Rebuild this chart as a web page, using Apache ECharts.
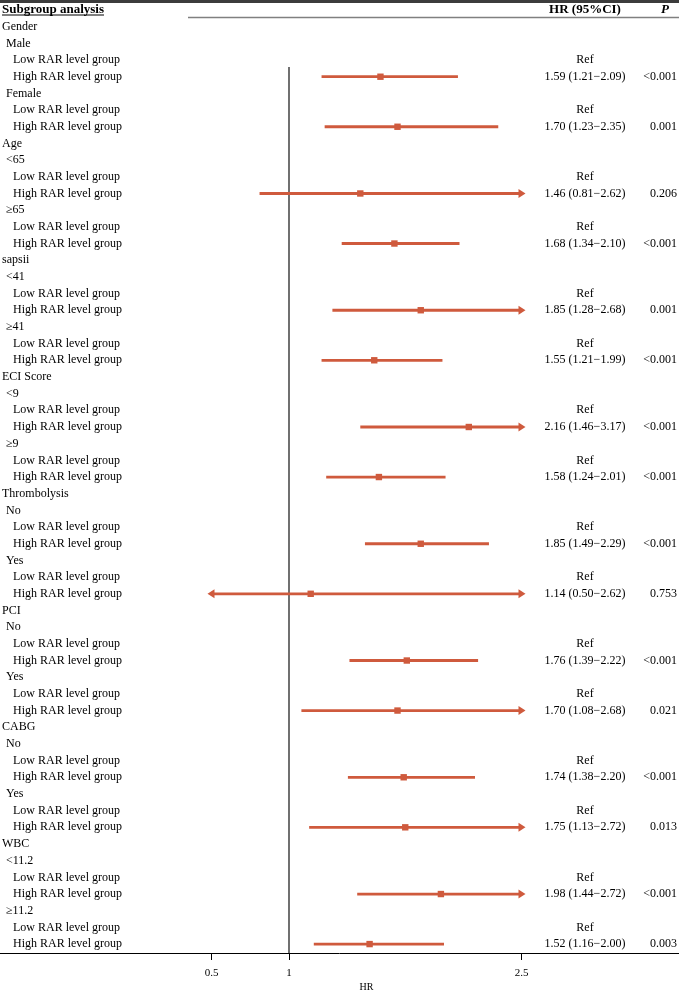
<!DOCTYPE html>
<html><head><meta charset="utf-8">
<script src="https://cdn.jsdelivr.net/npm/echarts@6/dist/echarts.min.js"></script>
<style>html,body{margin:0;padding:0;background:#fff}#c{width:679px;height:992px}</style>
</head><body><div id="c"></div>
<script>
// ---------------- data ----------------
const variables = ['Gender', 'Age', 'sapsii', 'ECI Score', 'Thrombolysis', 'PCI', 'CABG', 'WBC'];
const subgroups = [['Male', 'Female'], ['<65', '≥65'], ['<41', '≥41'], ['<9', '≥9'], ['No', 'Yes'], ['No', 'Yes'], ['No', 'Yes'], ['<11.2', '≥11.2']];
const groupLevels = ['Low RAR level group', 'High RAR level group'];
const hrEst  = [1.59, 1.70, 1.46, 1.68, 1.85, 1.55, 2.16, 1.58, 1.85, 1.14, 1.76, 1.70, 1.74, 1.75, 1.98, 1.52];
const ciLow  = [1.21, 1.23, 0.81, 1.34, 1.28, 1.21, 1.46, 1.24, 1.49, 0.50, 1.39, 1.08, 1.38, 1.13, 1.44, 1.16];
const ciHigh = [2.09, 2.35, 2.62, 2.10, 2.68, 1.99, 3.17, 2.01, 2.29, 2.62, 2.22, 2.68, 2.20, 2.72, 2.72, 2.00];
const pValues = ['<0.001', '0.001', '0.206', '<0.001', '0.001', '<0.001', '<0.001', '<0.001', '<0.001', '0.753', '<0.001', '0.021', '<0.001', '0.013', '<0.001', '0.003'];
const refLabel = 'Ref';
const tickValues = [0.5, 1, 2.5];
const headerLabels = ['Subgroup analysis', 'HR (95%CI)', 'P'];
const axisName = 'HR';

// ---------------- layout / style ----------------
const FONT = '"Liberation Serif"';
const COLOR = '#CF5A3D';
const W = 679, H = 992;
const PX_ONE = 289, PX_PER = 155;
const XMIN = 1 - PX_ONE / PX_PER, XMAX = 1 + (W - PX_ONE) / PX_PER;
const ROW0 = 10, ROWH = 16.68, AXIS_Y = 953;
const YMIN = (0 - ROW0) / ROWH, YMAX = (AXIS_Y - ROW0) / ROWH;
const CLIP_LO = 0.5, CLIP_HI = 2.5;
const REF_START = 3.42;
const INDENT = [2, 6, 13];
const HR_COL_X = 585, P_COL_X = 677, P_HEAD_X = 665;

const fmt = v => v.toFixed(2);

// build rows
const rows = [];
rows.push({ label: headerLabels[0], level: 0, hr: headerLabels[1], p: headerLabels[2], header: true });
const forestData = [];
let k = 0;
variables.forEach((v, i) => {
  rows.push({ label: v, level: 0 });
  subgroups[i].forEach(s => {
    rows.push({ label: s, level: 1 });
    rows.push({ label: groupLevels[0], level: 2, hr: refLabel });
    const r = rows.length;
    rows.push({ label: groupLevels[1], level: 2, hr: fmt(hrEst[k]) + ' (' + fmt(ciLow[k]) + '\u2212' + fmt(ciHigh[k]) + ')', p: pValues[k] });
    forestData.push([r, ciLow[k], hrEst[k], ciHigh[k]]);
    k++;
  });
});

function measure(text, font) {
  const c = document.createElement('canvas').getContext('2d');
  c.font = font;
  return c.measureText(text).width;
}

const chart = echarts.init(document.getElementById('c'), null, { renderer: 'canvas' });
chart.setOption({
  animation: false,
  backgroundColor: '#fff',
  grid: { left: 0, right: 0, top: 0, bottom: H - AXIS_Y, containLabel: false },
  xAxis: {
    type: 'value', min: XMIN, max: XMAX, position: 'bottom',
    axisLine: { show: true, onZero: false, lineStyle: { color: '#000', width: 1 } },
    axisTick: { show: true, customValues: tickValues, length: 7, lineStyle: { color: '#000', width: 1 } },
    axisLabel: { show: true, customValues: tickValues, margin: 15, fontFamily: 'Liberation Serif', fontSize: 11, color: '#000' },
    splitLine: { show: false }
  },
  yAxis: { type: 'value', inverse: true, min: YMIN, max: YMAX, show: false },
  series: [
    {
      type: 'custom', name: 'refline', clip: false, silent: true,
      data: [[1, REF_START]],
      renderItem: (params, api) => {
        const a = api.coord([api.value(0), api.value(1)]);
        const b = api.coord([api.value(0), YMAX]);
        return { type: 'line', shape: { x1: a[0], y1: a[1], x2: b[0], y2: b[1] }, style: { stroke: '#111', lineWidth: 1.2 } };
      }
    },
    {
      type: 'custom', name: 'forest', clip: false, silent: true,
      data: forestData,
      renderItem: (params, api) => {
        const r = api.value(0), lo = api.value(1), est = api.value(2), hi = api.value(3);
        const y = api.coord([1, r])[1];
        const xl = api.coord([Math.max(lo, CLIP_LO), r])[0];
        const xh = api.coord([Math.min(hi, CLIP_HI), r])[0];
        const xe = api.coord([est, r])[0];
        const ch = [
          { type: 'line', shape: { x1: xl, y1: y, x2: xh, y2: y }, style: { stroke: COLOR, lineWidth: 2.8 } }
        ];
        if (hi > CLIP_HI) ch.push({ type: 'polygon', shape: { points: [[xh - 3, y - 4.5], [xh + 4, y], [xh - 3, y + 4.5]] }, style: { fill: COLOR } });
        if (lo <= CLIP_LO) ch.push({ type: 'polygon', shape: { points: [[xl + 3, y - 4.5], [xl - 4, y], [xl + 3, y + 4.5]] }, style: { fill: COLOR } });
        ch.push({ type: 'rect', shape: { x: xe - 3.2, y: y - 3.2, width: 6.4, height: 6.4 }, style: { fill: COLOR } });
        return { type: 'group', children: ch };
      }
    },
    {
      type: 'custom', name: 'texts', clip: false, silent: true,
      data: rows.map((r, i) => [i]),
      renderItem: (params, api) => {
        const i = api.value(0);
        const row = rows[i];
        const y = api.coord([1, i])[1];
        const ch = [];
        const size = row.header ? 13 : 12;
        const weight = row.header ? 'bold ' : '';
        const lf = weight + size + 'px ' + FONT;
        ch.push({ type: 'text', style: { text: row.label, x: INDENT[row.level], y: y, font: lf, fill: '#000', align: 'left', verticalAlign: 'middle' } });
        if (row.header) {
          const w = measure(row.label, lf);
          ch.push({ type: 'line', shape: { x1: INDENT[0], y1: y + 5, x2: INDENT[0] + w, y2: y + 5 }, style: { stroke: '#000', lineWidth: 1 } });
        }
        if (row.hr) ch.push({ type: 'text', style: { text: row.hr, x: HR_COL_X, y: y, font: lf, fill: '#000', align: 'center', verticalAlign: 'middle' } });
        if (row.p) {
          if (row.header) ch.push({ type: 'text', style: { text: row.p, x: P_HEAD_X, y: y, font: 'italic bold 13px ' + FONT, fill: '#000', align: 'center', verticalAlign: 'middle' } });
          else ch.push({ type: 'text', style: { text: row.p, x: P_COL_X, y: y, font: lf, fill: '#000', align: 'right', verticalAlign: 'middle' } });
        }
        return { type: 'group', children: ch };
      }
    }
  ]
});

const hrX = chart.convertToPixel({ xAxisIndex: 0 }, (CLIP_LO + CLIP_HI) / 2);
chart.setOption({
  graphic: [
    { type: 'rect', left: 0, top: 0, shape: { x: 0, y: 0, width: W, height: 3 }, style: { fill: '#3c3c3c' }, silent: true },
    { type: 'line', shape: { x1: 188, y1: 17.5, x2: W, y2: 17.5 }, style: { stroke: '#808080', lineWidth: 1.5 }, silent: true },
    { type: 'text', x: hrX, y: 987, style: { text: axisName, font: '10px ' + FONT, fill: '#000', align: 'center', verticalAlign: 'middle' }, silent: true }
  ]
});
</script>
</body></html>
